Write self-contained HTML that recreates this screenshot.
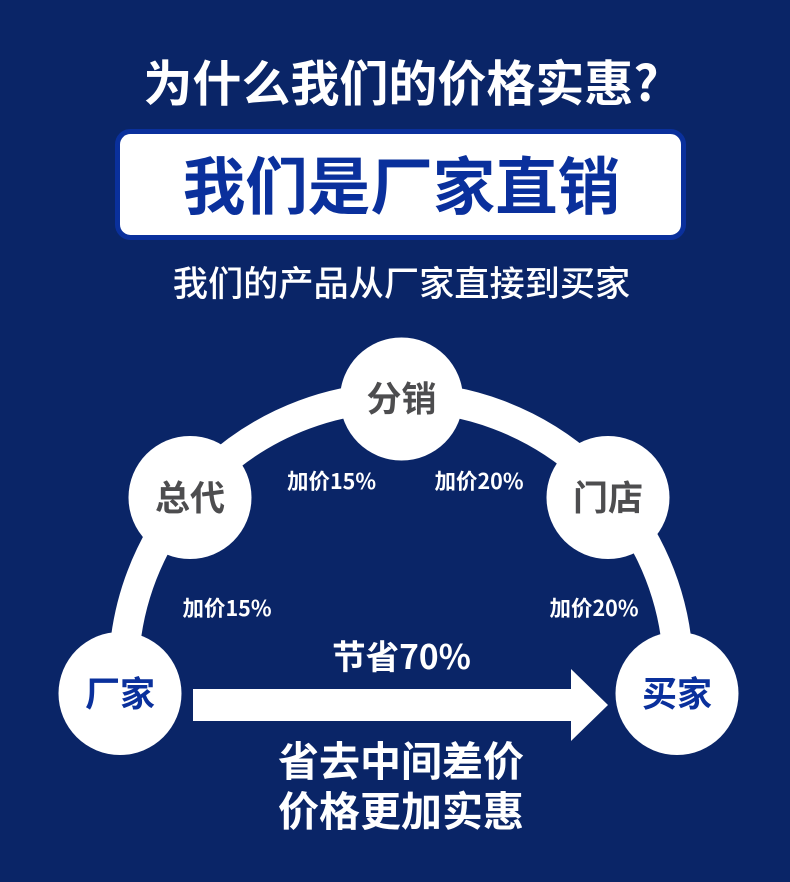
<!DOCTYPE html>
<html lang="zh">
<head>
<meta charset="utf-8">
<style>
html,body{margin:0;padding:0;background:#0a2567;width:790px;height:882px;overflow:hidden}
svg{display:block}
text{font-family:"Noto Sans CJK SC","Liberation Sans",sans-serif;font-weight:700;text-anchor:middle}
</style>
</head>
<body>
<svg width="790" height="882" viewBox="0 0 790 882" xmlns="http://www.w3.org/2000/svg">
<rect width="790" height="882" fill="#0a2567"/>
<text x="401" y="101" font-size="49" fill="#fff">为什么我们的价格实惠?</text>
<rect x="117.500" y="131.500" width="566" height="106" rx="13" fill="#fff" stroke="#0a309c" stroke-width="5"/>
<text x="401.500" y="209" font-size="62.500" fill="#0a309c">我们是厂家直销</text>
<text x="401.500" y="296" font-size="35.200" style="font-weight:500" fill="#fff">我们的产品从厂家直接到买家</text>
<path d="M124.600 650 A277.500 277.500 0 0 1 677.400 650" fill="none" stroke="#fff" stroke-width="30"/>
<g fill="#fff">
<circle cx="401.500" cy="399" r="61.500"/>
<circle cx="190" cy="497.500" r="61.500"/>
<circle cx="608" cy="497.500" r="61.500"/>
<circle cx="120" cy="693.500" r="61.500"/>
<circle cx="677" cy="693.500" r="61.500"/>
<path d="M193 689H571V669L608 705L571 741V721H193Z"/>
</g>
<g font-size="35" fill="#4d4d4f">
<text x="401.500" y="411.500">分销</text>
<text x="190" y="510.500">总代</text>
<text x="608" y="510.500">门店</text>
</g>
<text x="120" y="706.500" font-size="35" fill="#0a309c">厂家</text>
<text x="677" y="706.500" font-size="35" fill="#0a309c">买家</text>
<g fill="#fff">
<text x="331.500" y="489" font-size="21.500">加价15%</text>
<text x="479" y="489" font-size="21.500">加价20%</text>
<text x="227" y="616" font-size="21.500">加价15%</text>
<text x="594" y="616" font-size="21.500">加价20%</text>
<text x="401.500" y="669" font-size="33.500">节省70%</text>
<text x="401" y="776" font-size="41">省去中间差价</text>
<text x="401" y="826" font-size="41">价格更加实惠</text>
</g>
</svg>
</body>
</html>
